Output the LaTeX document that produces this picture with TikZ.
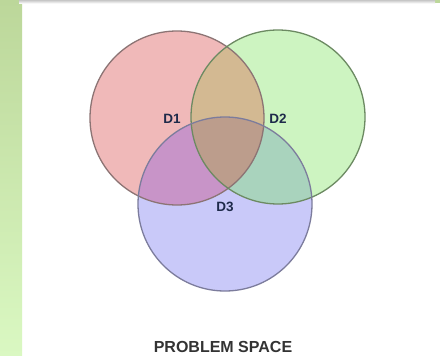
\documentclass[tikz,border=0pt]{standalone}
\usepackage{fontspec}
\newfontfamily\vennfont{Liberation Sans}
\definecolor{bandtop}{HTML}{BCD79A}
\definecolor{bandbot}{HTML}{DAF8C2}
\definecolor{redset}{HTML}{F0B9B9}
\definecolor{greenset}{HTML}{CDF4C1}
\definecolor{blueset}{HTML}{C9C9F9}
\definecolor{rgmix}{HTML}{D3B992}
\definecolor{rbmix}{HTML}{C894C8}
\definecolor{gbmix}{HTML}{A9D3BD}
\definecolor{allmix}{HTML}{BC9D8C}
\definecolor{redline}{HTML}{8C7474}
\definecolor{greenline}{HTML}{6C8A62}
\definecolor{blueline}{HTML}{7C7C9C}
\definecolor{labelink}{HTML}{1E2A4A}

\begin{document}
\begin{tikzpicture}[
    x=1pt, y=-1pt,
    ring/.style={line width=1.3pt},
    tag/.style={font=\vennfont\bfseries\fontsize{13.5}{14}\selectfont, text=labelink, inner sep=0pt},
    caption/.style={font=\vennfont\bfseries\fontsize{16}{17}\selectfont, text=black!80, inner sep=0pt}
]
\useasboundingbox (0,0) rectangle (440,356);
\fill[white] (0,0) rectangle (440,356);

% side band and top rule
\shade[top color=bandtop, bottom color=bandbot] (0,0) rectangle (22,356);
\fill[bandtop] (435,0) rectangle (440,3);
\shade[top color=gray!45, bottom color=white] (19,0) rectangle (435,3.5);

% set centres
\coordinate (cR) at (177,118);
\coordinate (cG) at (278,117);
\coordinate (cB) at (225,204);

% plain sets
\fill[redset] (cR) circle (87pt);
\fill[greenset] (cG) circle (87pt);
\fill[blueset] (cB) circle (87pt);

% pairwise overlaps
\begin{scope}
  \clip (cR) circle (87pt);
  \fill[rgmix] (cG) circle (87pt);
  \fill[rbmix] (cB) circle (87pt);
\end{scope}
\begin{scope}
  \clip (cG) circle (87pt);
  \fill[gbmix] (cB) circle (87pt);
\end{scope}
% triple overlap
\begin{scope}
  \clip (cR) circle (87pt);
  \clip (cG) circle (87pt);
  \fill[allmix] (cB) circle (87pt);
\end{scope}

% outlines
\draw[ring, redline] (cR) circle (87pt);
\draw[ring, greenline] (cG) circle (87pt);
\draw[ring, blueline] (cB) circle (87pt);

% labels
\node[tag] (d1) at (172,119) {D1};
\node[tag] (d2) at (278,119) {D2};
\node[tag] (d3) at (225,207) {D3};
\node[caption] (space) at (223,347) {PROBLEM SPACE};
\end{tikzpicture}
\end{document}
